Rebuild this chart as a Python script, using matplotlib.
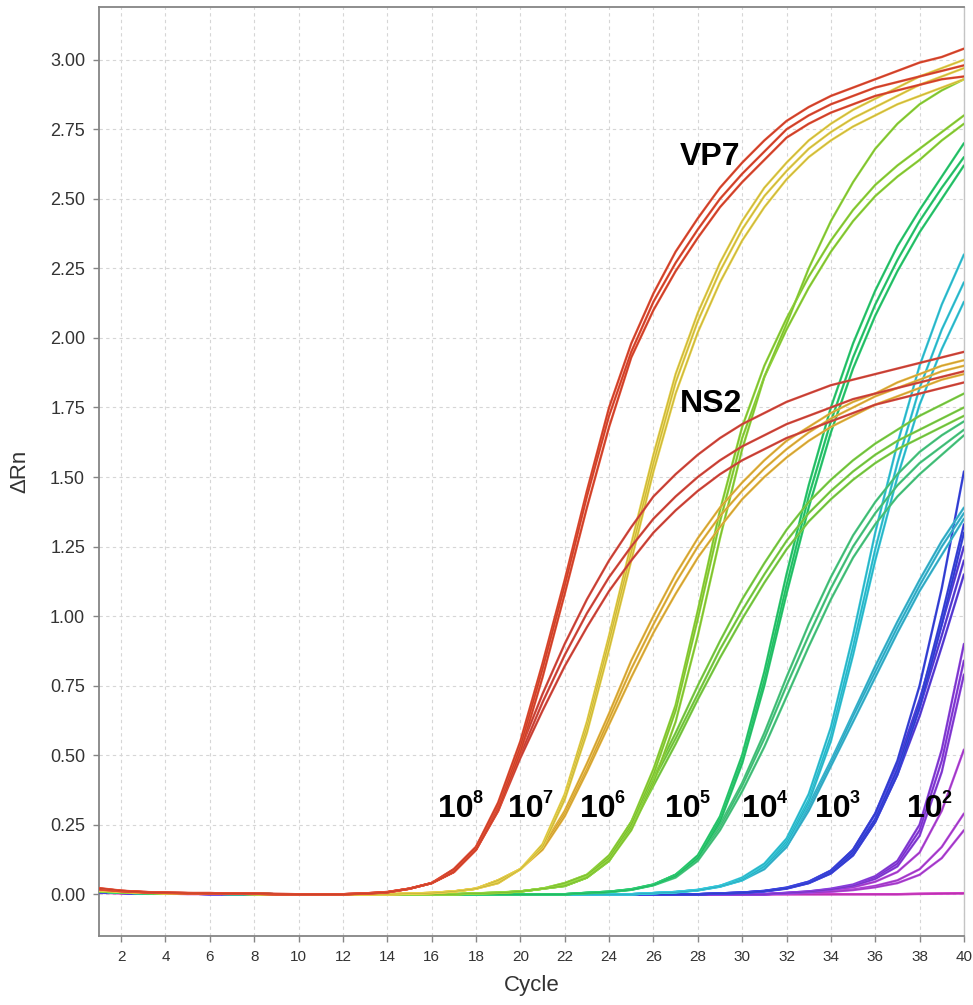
import matplotlib
matplotlib.use('Agg')
import matplotlib.pyplot as plt
import matplotlib.colors as mcolors
import numpy as np

plt.rcParams['font.family'] = ['Liberation Sans', 'DejaVu Sans']

# PCR cycles 1..40
cycles = list(range(1, 41))

# Delta Rn curves, three replicates per dilution and target
vp7_1e8 = [
    [0.02, 0.012, 0.008, 0.005, 0.004, 0.004, 0.003, 0.002, 0, 0, 0, 0, 0.003, 0.008, 0.02, 0.04, 0.09, 0.17, 0.33, 0.55,
     0.83, 1.13, 1.45, 1.75, 1.98, 2.16, 2.31, 2.43, 2.54, 2.63, 2.71, 2.78, 2.83, 2.87, 2.90, 2.93, 2.96, 2.99, 3.01, 3.04],
    [0.018, 0.011, 0.007, 0.005, 0.004, 0.003, 0.003, 0.002, 0, 0, 0, 0, 0.003, 0.007, 0.02, 0.04, 0.08, 0.16, 0.31, 0.53,
     0.81, 1.11, 1.43, 1.72, 1.95, 2.13, 2.27, 2.39, 2.50, 2.59, 2.67, 2.75, 2.80, 2.84, 2.87, 2.90, 2.92, 2.94, 2.96, 2.98],
    [0.022, 0.013, 0.008, 0.006, 0.004, 0.004, 0.003, 0.002, 0.001, 0, 0, 0, 0.002, 0.007, 0.02, 0.04, 0.08, 0.16, 0.30, 0.51,
     0.78, 1.08, 1.39, 1.68, 1.93, 2.10, 2.24, 2.36, 2.47, 2.56, 2.64, 2.72, 2.77, 2.81, 2.84, 2.87, 2.89, 2.91, 2.93, 2.94],
]
ns2_1e8 = [
    [0.02, 0.012, 0.008, 0.005, 0.004, 0.004, 0.003, 0.002, 0, 0, 0, 0, 0.003, 0.008, 0.02, 0.04, 0.09, 0.17, 0.32, 0.52,
     0.72, 0.90, 1.06, 1.20, 1.32, 1.43, 1.51, 1.58, 1.64, 1.69, 1.73, 1.77, 1.80, 1.83, 1.85, 1.87, 1.89, 1.91, 1.93, 1.95],
    [0.017, 0.011, 0.007, 0.005, 0.004, 0.003, 0.003, 0.002, 0, 0, 0, 0, 0.003, 0.007, 0.02, 0.04, 0.08, 0.16, 0.31, 0.50,
     0.69, 0.86, 1.01, 1.14, 1.25, 1.35, 1.43, 1.50, 1.56, 1.61, 1.65, 1.69, 1.72, 1.75, 1.78, 1.80, 1.82, 1.84, 1.86, 1.88],
    [0.021, 0.012, 0.008, 0.006, 0.004, 0.004, 0.003, 0.002, 0.001, 0, 0, 0, 0.002, 0.007, 0.02, 0.04, 0.08, 0.16, 0.30, 0.49,
     0.66, 0.82, 0.96, 1.09, 1.20, 1.30, 1.38, 1.45, 1.51, 1.56, 1.60, 1.64, 1.67, 1.70, 1.73, 1.76, 1.78, 1.80, 1.82, 1.84],
]
vp7_1e7 = [
    [0.015, 0.01, 0.006, 0.004, 0.003, 0.003, 0.002, 0.001, 0, 0, 0, 0, 0, 0, 0.002, 0.005, 0.01, 0.02, 0.05, 0.09,
     0.18, 0.36, 0.62, 0.93, 1.26, 1.58, 1.87, 2.09, 2.27, 2.42, 2.54, 2.63, 2.71, 2.77, 2.82, 2.86, 2.90, 2.94, 2.97, 3.00],
    [0.014, 0.009, 0.006, 0.004, 0.003, 0.002, 0.002, 0.001, 0, 0, 0, 0, 0, 0, 0.002, 0.005, 0.01, 0.02, 0.05, 0.09,
     0.17, 0.35, 0.60, 0.91, 1.23, 1.55, 1.84, 2.06, 2.24, 2.39, 2.51, 2.60, 2.68, 2.74, 2.79, 2.83, 2.87, 2.91, 2.94, 2.97],
    [0.016, 0.01, 0.007, 0.004, 0.003, 0.003, 0.002, 0.001, 0, 0, 0, 0, 0, 0, 0.002, 0.004, 0.01, 0.02, 0.04, 0.09,
     0.17, 0.34, 0.58, 0.88, 1.20, 1.52, 1.80, 2.02, 2.20, 2.35, 2.47, 2.57, 2.65, 2.71, 2.76, 2.80, 2.84, 2.87, 2.90, 2.93],
]
ns2_1e7 = [
    [0.015, 0.01, 0.006, 0.004, 0.003, 0.003, 0.002, 0.001, 0, 0, 0, 0, 0, 0, 0.002, 0.005, 0.01, 0.02, 0.05, 0.09,
     0.17, 0.30, 0.47, 0.65, 0.84, 1.00, 1.15, 1.28, 1.39, 1.48, 1.56, 1.63, 1.68, 1.73, 1.77, 1.80, 1.84, 1.87, 1.90, 1.92],
    [0.014, 0.009, 0.006, 0.004, 0.003, 0.002, 0.002, 0.001, 0, 0, 0, 0, 0, 0, 0.002, 0.005, 0.01, 0.02, 0.05, 0.09,
     0.17, 0.29, 0.45, 0.63, 0.81, 0.97, 1.12, 1.25, 1.36, 1.45, 1.53, 1.60, 1.66, 1.71, 1.75, 1.79, 1.82, 1.85, 1.88, 1.90],
    [0.016, 0.01, 0.007, 0.004, 0.003, 0.003, 0.002, 0.001, 0, 0, 0, 0, 0, 0, 0.002, 0.004, 0.01, 0.02, 0.04, 0.09,
     0.16, 0.28, 0.44, 0.61, 0.78, 0.94, 1.08, 1.21, 1.32, 1.42, 1.50, 1.57, 1.63, 1.68, 1.72, 1.76, 1.79, 1.82, 1.85, 1.87],
]
vp7_1e6 = [
    [0.012, 0.008, 0.005, 0.004, 0.003, 0.002, 0.002, 0.001, 0, 0, 0, 0, 0, 0, 0, 0, 0, 0.003, 0.006, 0.01,
     0.02, 0.04, 0.07, 0.14, 0.26, 0.45, 0.68, 1.02, 1.38, 1.68, 1.90, 2.07, 2.22, 2.35, 2.46, 2.55, 2.62, 2.68, 2.74, 2.80],
    [0.012, 0.008, 0.005, 0.004, 0.003, 0.002, 0.002, 0.001, 0, 0, 0, 0, 0, 0, 0, 0, 0, 0.003, 0.006, 0.01,
     0.02, 0.04, 0.07, 0.13, 0.25, 0.43, 0.66, 0.99, 1.34, 1.64, 1.86, 2.03, 2.18, 2.31, 2.42, 2.51, 2.58, 2.64, 2.71, 2.77],
    [0.012, 0.008, 0.005, 0.004, 0.003, 0.002, 0.002, 0.001, 0, 0, 0, 0, 0, 0, 0, 0, 0, 0.003, 0.005, 0.01,
     0.02, 0.03, 0.06, 0.12, 0.23, 0.40, 0.62, 0.93, 1.28, 1.60, 1.86, 2.05, 2.25, 2.42, 2.56, 2.68, 2.77, 2.84, 2.89, 2.93],
]
ns2_1e6 = [
    [0.012, 0.008, 0.005, 0.004, 0.003, 0.002, 0.002, 0.001, 0, 0, 0, 0, 0, 0, 0, 0, 0, 0.003, 0.005, 0.01,
     0.02, 0.03, 0.06, 0.13, 0.26, 0.42, 0.58, 0.75, 0.91, 1.06, 1.19, 1.31, 1.41, 1.49, 1.56, 1.62, 1.67, 1.72, 1.76, 1.80],
    [0.012, 0.008, 0.005, 0.004, 0.003, 0.002, 0.002, 0.001, 0, 0, 0, 0, 0, 0, 0, 0, 0, 0.003, 0.005, 0.01,
     0.02, 0.03, 0.06, 0.12, 0.25, 0.41, 0.56, 0.72, 0.88, 1.02, 1.15, 1.27, 1.37, 1.45, 1.52, 1.58, 1.63, 1.67, 1.71, 1.75],
    [0.012, 0.008, 0.005, 0.004, 0.003, 0.002, 0.002, 0.001, 0, 0, 0, 0, 0, 0, 0, 0, 0, 0.003, 0.005, 0.01,
     0.02, 0.03, 0.06, 0.12, 0.24, 0.39, 0.54, 0.70, 0.85, 0.99, 1.12, 1.24, 1.34, 1.42, 1.49, 1.55, 1.60, 1.64, 1.68, 1.72],
]
vp7_1e5 = [
    [0.01, 0.006, 0.004, 0.003, 0.002, 0.002, 0.001, 0.001, 0, 0, 0, 0, 0, 0, 0, 0, 0, 0, 0, 0, 0, 0,
     0.005, 0.009, 0.018, 0.035, 0.07, 0.14, 0.28, 0.50, 0.80, 1.15, 1.47, 1.75, 1.98, 2.17, 2.33, 2.46, 2.58, 2.70],
    [0.01, 0.006, 0.004, 0.003, 0.002, 0.002, 0.001, 0.001, 0, 0, 0, 0, 0, 0, 0, 0, 0, 0, 0, 0, 0, 0,
     0.005, 0.009, 0.017, 0.034, 0.07, 0.13, 0.27, 0.48, 0.77, 1.11, 1.43, 1.70, 1.93, 2.12, 2.28, 2.42, 2.54, 2.65],
    [0.01, 0.006, 0.004, 0.003, 0.002, 0.002, 0.001, 0.001, 0, 0, 0, 0, 0, 0, 0, 0, 0, 0, 0, 0, 0, 0,
     0.004, 0.008, 0.016, 0.033, 0.065, 0.13, 0.26, 0.47, 0.75, 1.08, 1.39, 1.66, 1.89, 2.08, 2.24, 2.38, 2.50, 2.62],
]
ns2_1e5 = [
    [0.01, 0.006, 0.004, 0.003, 0.002, 0.002, 0.001, 0.001, 0, 0, 0, 0, 0, 0, 0, 0, 0, 0, 0, 0, 0, 0,
     0.005, 0.009, 0.018, 0.035, 0.07, 0.13, 0.25, 0.40, 0.58, 0.78, 0.97, 1.14, 1.29, 1.41, 1.51, 1.59, 1.65, 1.70],
    [0.01, 0.006, 0.004, 0.003, 0.002, 0.002, 0.001, 0.001, 0, 0, 0, 0, 0, 0, 0, 0, 0, 0, 0, 0, 0, 0,
     0.005, 0.009, 0.017, 0.034, 0.065, 0.13, 0.24, 0.39, 0.56, 0.75, 0.93, 1.10, 1.25, 1.37, 1.47, 1.55, 1.61, 1.67],
    [0.01, 0.006, 0.004, 0.003, 0.002, 0.002, 0.001, 0.001, 0, 0, 0, 0, 0, 0, 0, 0, 0, 0, 0, 0, 0, 0,
     0.004, 0.008, 0.016, 0.032, 0.06, 0.12, 0.23, 0.37, 0.53, 0.71, 0.89, 1.06, 1.21, 1.33, 1.43, 1.51, 1.58, 1.65],
]
vp7_1e4 = [
    [0.01, 0.006, 0.004, 0.003, 0.002, 0.002, 0.001, 0.001, 0, 0, 0, 0, 0, 0, 0, 0, 0, 0, 0, 0, 0, 0, 0, 0, 0,
     0.004, 0.008, 0.016, 0.03, 0.06, 0.11, 0.20, 0.36, 0.60, 0.93, 1.30, 1.62, 1.90, 2.12, 2.30],
    [0.01, 0.006, 0.004, 0.003, 0.002, 0.002, 0.001, 0.001, 0, 0, 0, 0, 0, 0, 0, 0, 0, 0, 0, 0, 0, 0, 0, 0, 0,
     0.004, 0.008, 0.015, 0.03, 0.055, 0.10, 0.19, 0.34, 0.57, 0.89, 1.24, 1.55, 1.82, 2.03, 2.20],
    [0.01, 0.006, 0.004, 0.003, 0.002, 0.002, 0.001, 0.001, 0, 0, 0, 0, 0, 0, 0, 0, 0, 0, 0, 0, 0, 0, 0, 0, 0,
     0.004, 0.007, 0.014, 0.028, 0.05, 0.10, 0.18, 0.33, 0.55, 0.86, 1.20, 1.50, 1.76, 1.96, 2.13],
]
ns2_1e4 = [
    [0.01, 0.006, 0.004, 0.003, 0.002, 0.002, 0.001, 0.001, 0, 0, 0, 0, 0, 0, 0, 0, 0, 0, 0, 0, 0, 0, 0, 0, 0,
     0.004, 0.008, 0.015, 0.03, 0.055, 0.10, 0.18, 0.32, 0.48, 0.65, 0.82, 0.98, 1.13, 1.27, 1.39],
    [0.01, 0.006, 0.004, 0.003, 0.002, 0.002, 0.001, 0.001, 0, 0, 0, 0, 0, 0, 0, 0, 0, 0, 0, 0, 0, 0, 0, 0, 0,
     0.004, 0.008, 0.015, 0.028, 0.052, 0.10, 0.17, 0.31, 0.47, 0.64, 0.80, 0.96, 1.11, 1.25, 1.37],
    [0.01, 0.006, 0.004, 0.003, 0.002, 0.002, 0.001, 0.001, 0, 0, 0, 0, 0, 0, 0, 0, 0, 0, 0, 0, 0, 0, 0, 0, 0,
     0.004, 0.007, 0.014, 0.027, 0.05, 0.09, 0.17, 0.30, 0.46, 0.62, 0.78, 0.94, 1.09, 1.22, 1.35],
]
vp7_1e3 = [
    [0.008, 0.005, 0.003, 0.002, 0.002, 0.001, 0.001, 0.001, 0, 0, 0, 0, 0, 0, 0, 0, 0, 0, 0, 0, 0, 0, 0, 0, 0, 0, 0, 0,
     0.003, 0.006, 0.012, 0.024, 0.045, 0.085, 0.16, 0.29, 0.48, 0.75, 1.10, 1.52],
    [0.008, 0.005, 0.003, 0.002, 0.002, 0.001, 0.001, 0.001, 0, 0, 0, 0, 0, 0, 0, 0, 0, 0, 0, 0, 0, 0, 0, 0, 0, 0, 0, 0,
     0.003, 0.006, 0.011, 0.022, 0.042, 0.08, 0.15, 0.27, 0.45, 0.69, 1.00, 1.33],
    [0.008, 0.005, 0.003, 0.002, 0.002, 0.001, 0.001, 0.001, 0, 0, 0, 0, 0, 0, 0, 0, 0, 0, 0, 0, 0, 0, 0, 0, 0, 0, 0, 0,
     0.003, 0.005, 0.011, 0.021, 0.04, 0.075, 0.14, 0.26, 0.43, 0.67, 0.97, 1.30],
]
ns2_1e3 = [
    [0.008, 0.005, 0.003, 0.002, 0.002, 0.001, 0.001, 0.001, 0, 0, 0, 0, 0, 0, 0, 0, 0, 0, 0, 0, 0, 0, 0, 0, 0, 0, 0, 0,
     0.003, 0.006, 0.012, 0.023, 0.045, 0.085, 0.16, 0.29, 0.47, 0.70, 0.97, 1.25],
    [0.008, 0.005, 0.003, 0.002, 0.002, 0.001, 0.001, 0.001, 0, 0, 0, 0, 0, 0, 0, 0, 0, 0, 0, 0, 0, 0, 0, 0, 0, 0, 0, 0,
     0.003, 0.006, 0.011, 0.022, 0.042, 0.08, 0.15, 0.27, 0.45, 0.67, 0.93, 1.20],
    [0.008, 0.005, 0.003, 0.002, 0.002, 0.001, 0.001, 0.001, 0, 0, 0, 0, 0, 0, 0, 0, 0, 0, 0, 0, 0, 0, 0, 0, 0, 0, 0, 0,
     0.002, 0.005, 0.010, 0.02, 0.04, 0.075, 0.14, 0.26, 0.43, 0.64, 0.89, 1.15],
]
vp7_1e2 = [
    [0.008, 0.005, 0.003, 0.002, 0.002, 0.001, 0.001, 0.001, 0, 0, 0, 0, 0, 0, 0, 0, 0, 0, 0, 0, 0, 0, 0, 0, 0, 0, 0, 0, 0, 0, 0,
     0.005, 0.01, 0.02, 0.035, 0.065, 0.12, 0.25, 0.52, 0.90],
    [0.008, 0.005, 0.003, 0.002, 0.002, 0.001, 0.001, 0.001, 0, 0, 0, 0, 0, 0, 0, 0, 0, 0, 0, 0, 0, 0, 0, 0, 0, 0, 0, 0, 0, 0, 0,
     0.005, 0.01, 0.018, 0.032, 0.06, 0.11, 0.23, 0.48, 0.84],
    [0.008, 0.005, 0.003, 0.002, 0.002, 0.001, 0.001, 0.001, 0, 0, 0, 0, 0, 0, 0, 0, 0, 0, 0, 0, 0, 0, 0, 0, 0, 0, 0, 0, 0, 0, 0,
     0.004, 0.009, 0.017, 0.03, 0.055, 0.10, 0.21, 0.44, 0.79],
]
ns2_1e2 = [
    [0.008, 0.005, 0.003, 0.002, 0.002, 0.001, 0.001, 0.001, 0, 0, 0, 0, 0, 0, 0, 0, 0, 0, 0, 0, 0, 0, 0, 0, 0, 0, 0, 0, 0, 0, 0,
     0.004, 0.008, 0.015, 0.025, 0.045, 0.08, 0.15, 0.30, 0.52],
    [0.008, 0.005, 0.003, 0.002, 0.002, 0.001, 0.001, 0.001, 0, 0, 0, 0, 0, 0, 0, 0, 0, 0, 0, 0, 0, 0, 0, 0, 0, 0, 0, 0, 0, 0, 0,
     0.003, 0.006, 0.01, 0.017, 0.03, 0.05, 0.09, 0.17, 0.29],
    [0.008, 0.005, 0.003, 0.002, 0.002, 0.001, 0.001, 0.001, 0, 0, 0, 0, 0, 0, 0, 0, 0, 0, 0, 0, 0, 0, 0, 0, 0, 0, 0, 0, 0, 0, 0,
     0.003, 0.005, 0.009, 0.015, 0.025, 0.04, 0.07, 0.13, 0.23],
]
ntc = [
    [0.006, 0.004, 0.003, 0.002, 0.001, 0.001, 0.001, 0.001, 0, 0, 0, 0, 0, 0, 0, 0, 0, 0, 0, 0,
     0, 0, 0, 0, 0, 0, 0, 0, 0, 0, 0, 0, 0, 0, 0, 0, 0, 0.002, 0.003, 0.004],
    [0.005, 0.003, 0.002, 0.002, 0.001, 0.001, 0.001, 0, 0, 0, 0, 0, 0, 0, 0, 0, 0, 0, 0, 0,
     0, 0, 0, 0, 0, 0, 0, 0, 0, 0, 0, 0, 0, 0, 0, 0, 0, 0.001, 0.002, 0.003],
]

# drawing order: latest dilution first, so the red curves end on top
groups = [
    (ntc, '#d23cc6'),
    (ns2_1e2, '#b545dc'), (vp7_1e2, '#8c40e0'),
    (ns2_1e3, '#5c3fe0'), (vp7_1e3, '#3a46e2'),
    (ns2_1e4, '#3bbbd6'), (vp7_1e4, '#35c9dc'),
    (ns2_1e5, '#4ccd84'), (vp7_1e5, '#2ccf72'),
    (ns2_1e6, '#80d448'), (vp7_1e6, '#92d83c'),
    (ns2_1e7, '#eab840'), (vp7_1e7, '#e8d24a'),
    (ns2_1e8, '#da4a3e'), (vp7_1e8, '#e44c32'),
]

fig = plt.figure(figsize=(9.73, 10.05), dpi=100)
ax = fig.add_axes([0.1017, 0.0687, 0.889, 0.9244])

for reps, col in groups:
    dark = np.array(mcolors.to_rgb(col)) * 0.5
    for y in reps:
        assert len(y) == len(cycles)
        ax.plot(cycles, y, color=col, lw=1.7, solid_capstyle='round', zorder=3)
        ax.plot(cycles, y, color=dark, lw=0.4, alpha=0.45, zorder=3)

ax.set_xlim(1, 40)
ax.set_ylim(-0.15, 3.19)
ax.set_xticks(np.arange(2, 41, 2))
ax.set_yticks(np.arange(0, 3.01, 0.25))
ax.set_yticklabels([f'{v:.2f}' for v in np.arange(0, 3.01, 0.25)])

ax.grid(True, color='#d6d6d6', linestyle=(0, (3, 3)), linewidth=0.8, zorder=0)
for side in ['left', 'bottom', 'top']:
    ax.spines[side].set_color('#858585')
    ax.spines[side].set_linewidth(1.3)
ax.spines['right'].set_color('#c4c4c4')
ax.spines['right'].set_linewidth(1.0)

ax.tick_params(axis='both', direction='out', length=4, width=1, color='#858585', labelcolor='#333333')
ax.tick_params(axis='y', labelsize=13, pad=6)
ax.tick_params(axis='x', labelsize=11, pad=6)

ax.set_xlabel('Cycle', fontsize=16, color='#333333')
ax.set_ylabel('ΔRn', fontsize=16, color='#333333')
ax.xaxis.set_label_coords(0.5, -0.042)
ax.yaxis.set_label_coords(-0.079, 0.5)

# target labels
ax.text(27.2, 2.62, 'VP7', fontsize=23, fontweight='bold', ha='left', va='baseline', zorder=5)
ax.text(27.2, 1.732, 'NS2', fontsize=23, fontweight='bold', ha='left', va='baseline', zorder=5)

# dilution labels
dil_exps = ['8', '7', '6', '5', '4', '3', '2']
dil_x = [16.28, 19.44, 22.69, 26.52, 29.99, 33.28, 37.43]
for xe, ex in zip(dil_x, dil_exps):
    ax.text(xe, 0.277, '10', fontsize=23, fontweight='bold', ha='left', va='baseline', zorder=5)
    ax.annotate(ex, xy=(xe, 0.277), xytext=(25, 10.5), textcoords='offset points',
                fontsize=13, fontweight='bold', ha='left', va='baseline', zorder=5)

fig.savefig('out.png', dpi=100)
